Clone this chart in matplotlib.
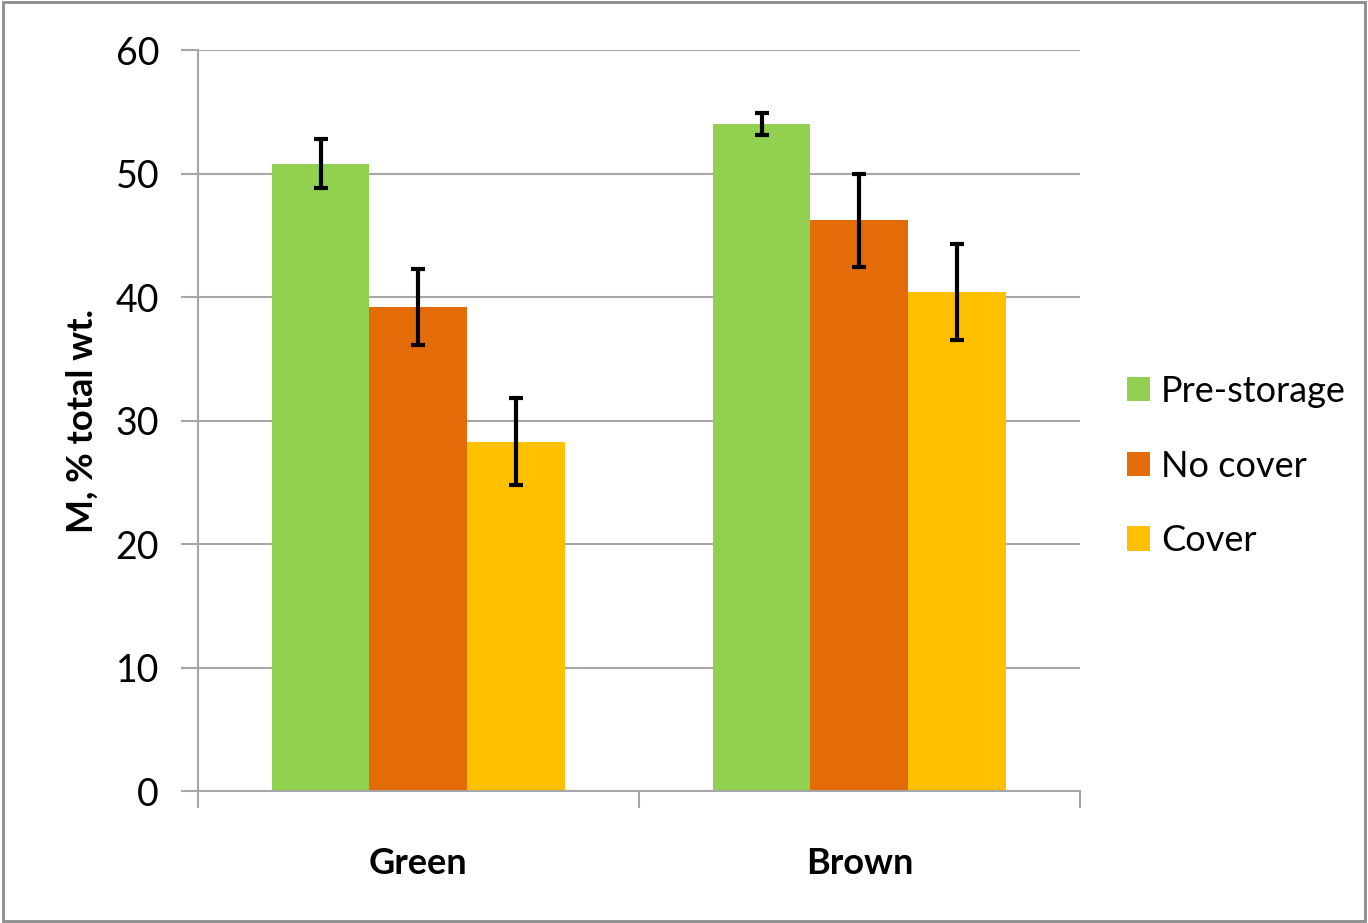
import numpy as np
import matplotlib
matplotlib.use("Agg")
import matplotlib.pyplot as plt
from matplotlib.patches import Rectangle

plt.rcParams['font.family'] = ['Lato', 'DejaVu Sans']

categories = ["Green", "Brown"]
series = ["Pre-storage", "No cover", "Cover"]
values = [
    [50.8, 54.0],   # Pre-storage
    [39.2, 46.2],   # No cover
    [28.3, 40.4],   # Cover
]
errors = [
    [2.0, 0.9],
    [3.1, 3.8],
    [3.5, 3.9],
]
colors = ["#92D050", "#E36C09", "#FFC000"]

fig = plt.figure(figsize=(13.68, 9.23), dpi=100)
ax = fig.add_axes([0.1447, 0.1430, 0.6447, 0.8028])

x = np.arange(len(categories))
width = 0.222
for i, name in enumerate(series):
    ax.bar(x + (i - 1) * width, values[i], width, color=colors[i], label=name,
           zorder=2)
    ax.errorbar(x + (i - 1) * width, values[i], yerr=errors[i], fmt="none",
                ecolor="black", elinewidth=3, capsize=5, capthick=3, zorder=3)

ax.set_xlim(-0.5, 1.5)
ax.set_ylim(0, 60)
ax.set_yticks(range(0, 61, 10))
ax.yaxis.grid(True, color="#A6A6A6", linewidth=1.5, zorder=0)
ax.set_axisbelow(True)

# category boundaries get the tick marks, names go in between
ax.set_xticks([-0.5, 0.5, 1.5])
ax.set_xticklabels([])
ax.set_xticks(x, minor=True)
ax.set_xticklabels(categories, minor=True, fontsize=26, fontweight="bold")
ax.tick_params(axis="x", which="major", length=12, width=1.5, color="#A6A6A6")
ax.tick_params(axis="x", which="minor", length=0, pad=40)
ax.tick_params(axis="y", length=12, width=1.5, color="#A6A6A6", labelsize=27,
               pad=16)

for s in ["top", "right"]:
    ax.spines[s].set_visible(False)
for s in ["left", "bottom"]:
    ax.spines[s].set_color("#A6A6A6")
    ax.spines[s].set_linewidth(1.5)

ax.set_ylabel("M, % total wt.", fontsize=26, fontweight="bold", labelpad=12)

fig.legend(loc="center left", bbox_to_anchor=(0.8, 0.495), frameon=False,
           fontsize=26, handlelength=0.65, handleheight=0.65, handletextpad=0.3,
           labelspacing=1.15)

fig.patches.append(Rectangle((0.002, 0.002), 0.996, 0.996, transform=fig.transFigure,
                             fill=False, edgecolor="#8C8C8C", linewidth=2))

fig.savefig("out.png", dpi=100)
